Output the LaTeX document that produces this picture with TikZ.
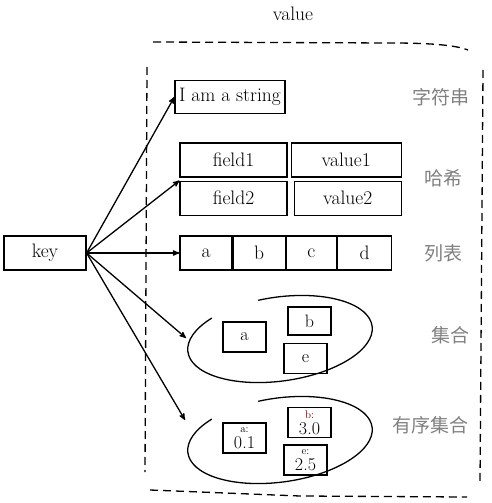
\documentclass[tikz,border=0pt]{standalone}
\usepackage{fontspec}
\newfontfamily\cjk{Noto Sans CJK SC}
\usepackage{tikz}
\usetikzlibrary{arrows,positioning}
\newcommand{\zlab}[1]{{\fontsize{11}{9}\selectfont #1}}
\tikzset{
    %Define standard arrow tip
    >=stealth',
    %Define style for boxes
    cell/.style={
           rectangle,
           draw=black, line width=1.2pt,
           minimum height=34pt,
           inner sep=2pt,
           font=\fontsize{19.5}{22}\selectfont,
           text centered},
    elem/.style={
           rectangle,
           draw=black, line width=1.2pt,
           minimum width=43pt,
           minimum height=30pt,
           inner sep=0pt,
           font=\fontsize{18}{15}\selectfont,
           align=center},
    kind/.style={
           font=\cjk\fontsize{19}{22}\selectfont,
           text=black!50},
    % Define line styles
    pil/.style={
           ->,
           line width=1.3pt},
    frame/.style={
           line width=1.3pt,
           dash pattern=on 8pt off 5pt},
    ring/.style={
           line width=1.3pt}
}
\begin{document}
\begin{tikzpicture}[x=1pt,y=-1pt]
\useasboundingbox (0,0) rectangle (491,503);

 %nodes
\node[font=\fontsize{19.5}{22}\selectfont] (title) at (293,14) {value};
\node[cell, minimum width=82pt] (key) at (45,253) {key};
\node[cell, minimum width=110pt, minimum height=33pt] (str) at (230,97) {I am a string};

\node[cell, minimum width=107pt] (f1) at (233.5,160) {field1};
\node[cell, minimum width=110pt, right=3pt of f1] (v1) {value1};
\node[cell, minimum width=107pt, below=3pt of f1] (f2) {field2};
\node[cell, minimum width=107pt, below=3pt of v1.south west, anchor=north west, xshift=3pt] (v2) {value2};

\node[cell, minimum width=52pt] (la) at (206,253) {a};
\node[cell, minimum width=52pt, right=0pt of la] (lb) {b};
\node[cell, minimum width=50pt, right=0pt of lb] (lc) {c};
\node[cell, minimum width=54pt, right=0pt of lc] (ld) {d};

\node[elem] (sa) at (244.5,337) {a};
\node[elem, minimum height=28pt] (sb) at (309.5,321) {b};
\node[elem] (se) at (305.5,358.5) {e};

\node[elem] (za) at (244.5,438) {\zlab{a:}\\[1pt]0.1};
\node[elem] (zb) at (309.5,422.5) {\zlab{\textcolor{red!45!black}{b:}}\\[1pt]3.0};
\node[elem] (ze) at (305.5,460) {\zlab{e:}\\[1pt]2.5};

\node[kind] (k1) at (441,97) {字符串};
\node[kind] (k2) at (443,178) {哈希};
\node[kind] (k3) at (443,253) {列表};
\node[kind] (k4) at (450,335) {集合};
\node[kind] (k5) at (430,425) {有序集合};

 %set outlines
\draw[ring, rotate around={8:(280,339)}] (280,339) ++(226:93 and 42) arc (226:-100:93 and 42);
\draw[ring, rotate around={8:(280,440)}] (280,440) ++(226:93 and 42) arc (226:-100:93 and 42);
\coordinate (setin) at (186,338);
\coordinate (zsetin) at (185,420);

 %value frame
\draw[frame] (153,42) -- (390,43) .. controls (430,43) and (455,45) .. (468,50);
\draw[frame] (147,67) -- (145,472);
\draw[frame] (483,70) -- (480,484);
\draw[frame] (150,490) -- (300,496) -- (467,497);

 \path[pil]
    (key.east) edge node {} (str.west)
    	edge node {} (f2.north west)
    	edge node {} (la.west)
    	edge node {} (setin)
    	edge node {} (zsetin);

\end{tikzpicture}
\end{document}
